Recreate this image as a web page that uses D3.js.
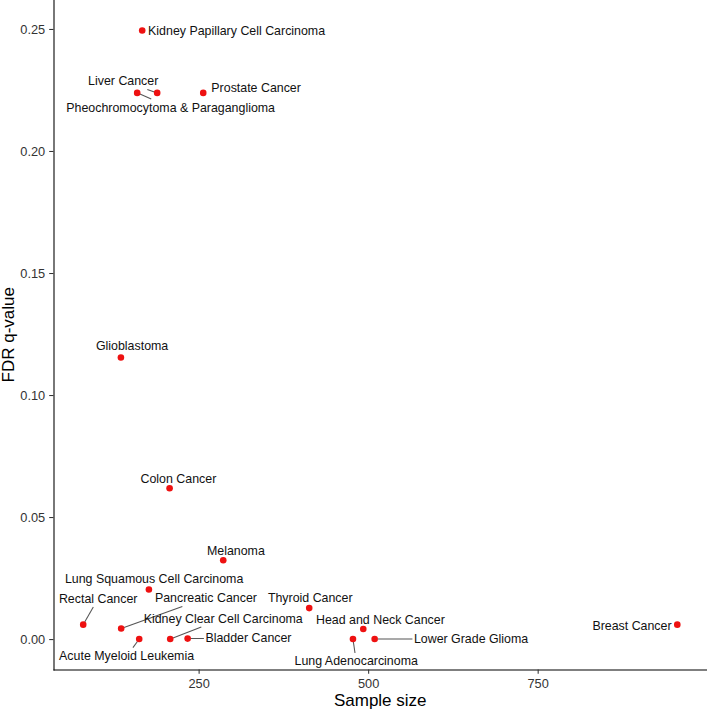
<!DOCTYPE html>
<html><head><meta charset="utf-8">
<script src="https://cdn.jsdelivr.net/npm/d3@7"></script>
<style>
body{margin:0;background:#fff}
svg{display:block}
text{font-family:"Liberation Sans",Arial,Helvetica,sans-serif}
</style>
</head><body>
<svg id="chart" width="707" height="711"></svg>
<script>
// ---- data ----
const cancers = [
  "Kidney Papillary Cell Carcinoma","Liver Cancer","Pheochromocytoma & Paraganglioma",
  "Prostate Cancer","Glioblastoma","Colon Cancer","Melanoma","Lung Squamous Cell Carcinoma",
  "Rectal Cancer","Pancreatic Cancer","Acute Myeloid Leukemia","Kidney Clear Cell Carcinoma",
  "Bladder Cancer","Thyroid Cancer","Head and Neck Cancer","Lung Adenocarcinoma",
  "Lower Grade Glioma","Breast Cancer"
];
const sampleSize = [166.8,188.9,159.4,256.8,135.4,207.2,286.3,176.7,79.8,135.8,162.4,208.1,233.8,413.1,492.8,477.6,509.6,955.9];
const fdrQ       = [0.2494,0.2238,0.2238,0.2238,0.1154,0.0618,0.0323,0.0203,0.0059,0.0043,0.0,0.0,0.0002,0.0127,0.0041,0.0,0.0,0.0059];
// repelled label anchor positions (data units, label centre)
const labelSampleSize = [306.0,138.8,208.8,334.8,151.9,220.2,305.0,184.4,101.9,260.8,143.8,286.3,323.5,414.6,518.1,482.4,651.8,889.1];
const labelFdrQ       = [0.2494,0.2289,0.2180,0.2258,0.1201,0.0658,0.0364,0.0250,0.0168,0.0170,-0.0068,0.0086,0.0006,0.0171,0.0081,-0.0090,0.0002,0.0056];
const xTicks = [250,500,750];
const yTicks = [0,0.05,0.10,0.15,0.20,0.25];
const xTitle = "Sample size";
const yTitle = "FDR q-value";

// ---- layout ----
const mLeft = 53.5, mRight = 707, mTop = 0, mBottom = 669.5;
const svg = d3.select("#chart");

function expand(ext, f){ const d = (ext[1]-ext[0])*f; return [ext[0]-d, ext[1]+d]; }
const x = d3.scaleLinear().domain(expand(d3.extent(sampleSize),0.05)).range([mLeft,mRight]);
const y = d3.scaleLinear().domain(expand(d3.extent(fdrQ),0.05)).range([mBottom,mTop]);

const data = cancers.map((c,i)=>({name:c, x:sampleSize[i], y:fdrQ[i], lx:labelSampleSize[i], ly:labelFdrQ[i]}));

// axes
const xAxis = svg.append("g").attr("transform",`translate(0,${mBottom})`)
  .call(d3.axisBottom(x).tickValues(xTicks).tickFormat(d3.format("d")).tickSize(4.3).tickSizeOuter(0).tickPadding(4.7));
const yAxis = svg.append("g").attr("transform",`translate(${mLeft},0)`)
  .call(d3.axisLeft(y).tickValues(yTicks).tickFormat(d3.format(".2f")).tickSize(4.3).tickSizeOuter(0).tickPadding(4));
[xAxis,yAxis].forEach(g=>{
  g.select(".domain").attr("stroke","#000").attr("stroke-width",1.07).attr("stroke-linecap","square");
  g.selectAll(".tick line").attr("stroke","#333").attr("stroke-width",1.07);
  g.selectAll(".tick text").attr("fill","#333").style("font-size","12.8px").style("font-family",'"Liberation Sans",Arial,sans-serif');
});

// titles
svg.append("text").attr("x",(mLeft+mRight)/2).attr("y",706).attr("text-anchor","middle")
  .style("font-size","17px").attr("fill","#000").text(xTitle);
svg.append("text").attr("transform",`translate(14,${(mTop+mBottom)/2}) rotate(-90)`).attr("text-anchor","middle")
  .style("font-size","17px").attr("fill","#000").text(yTitle);

// points
const gSeg = svg.append("g");
svg.append("g").selectAll("circle").data(data).join("circle")
  .attr("cx",d=>x(d.x)).attr("cy",d=>y(d.y)).attr("r",3.3).attr("fill","#ee1111");

// labels
const labels = svg.append("g").selectAll("text").data(data).join("text")
  .attr("x",d=>x(d.lx)).attr("y",d=>y(d.ly)).attr("dy","0.36em")
  .attr("text-anchor","middle").style("font-size","12.4px").attr("fill","#111")
  .text(d=>d.name);

// segments (point -> label centre, clipped at label box)
const pad = 1.5, ptPad = 3, minLen = 9;
labels.each(function(d){
  const b = this.getBBox();
  const x1 = b.x-pad, x2 = b.x+b.width+pad, y1 = b.y-pad, y2 = b.y+b.height+pad;
  const px = x(d.x), py = y(d.y);
  const cx = (x1+x2)/2, cy = (y1+y2)/2;
  if (px>=x1 && px<=x2 && py>=y1 && py<=y2) return;
  const dx = cx-px, dy = cy-py;
  let tx = -Infinity, ty = -Infinity;
  if (dx>0) tx = (x1-px)/dx; else if (dx<0) tx = (x2-px)/dx;
  if (dy>0) ty = (y1-py)/dy; else if (dy<0) ty = (y2-py)/dy;
  const t = Math.max(tx, ty);
  const ex = px+dx*t, ey = py+dy*t;
  const len = Math.hypot(ex-px, ey-py);
  if (len < minLen) return;
  const sx = px+(ex-px)*ptPad/len, sy = py+(ey-py)*ptPad/len;
  gSeg.append("line").attr("x1",sx).attr("y1",sy).attr("x2",ex).attr("y2",ey)
    .attr("stroke","#555").attr("stroke-width",1.07);
});
</script>
</body></html>
